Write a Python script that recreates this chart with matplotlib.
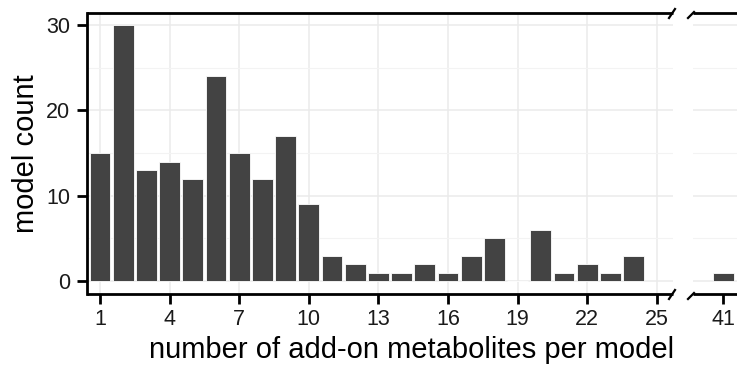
import matplotlib
matplotlib.use("Agg")
import matplotlib.pyplot as plt
from matplotlib.lines import Line2D
import numpy as np

plt.rcParams['font.family'] = ['Liberation Sans', 'DejaVu Sans']

# data
n_metabolites = [1, 2, 3, 4, 5, 6, 7, 8, 9, 10, 11, 12, 13, 14, 15, 16, 17, 18, 19, 20, 21, 22, 23, 24, 41]
model_count = [15, 30, 13, 14, 12, 24, 15, 12, 17, 9, 3, 2, 1, 1, 2, 1, 3, 5, 0, 6, 1, 2, 1, 3, 1]
left_ticks = [1, 4, 7, 10, 13, 16, 19, 22, 25]
right_ticks = [41]
y_ticks = [0, 10, 20, 30]

W, H = 737, 369
fig = plt.figure(figsize=(W / 100, H / 100), dpi=100)

top_px, bot_px = 13, 294
l1, r1 = 87, 673
l2, r2 = 693, 737
y0 = 1 - bot_px / H
hh = (bot_px - top_px) / H
ax1 = fig.add_axes([l1 / W, y0, (r1 - l1) / W, hh])
ax2 = fig.add_axes([l2 / W, y0, (r2 - l2) / W, hh])

bar_color = '#434343'
grid_color = '#ebebeb'
spine_lw = 2.0

x = np.array(n_metabolites)
y = np.array(model_count)
for ax in (ax1, ax2):
    ax.bar(x, y, width=0.9, color=bar_color, edgecolor='white', linewidth=0.6, zorder=3)
    ax.set_ylim(-1.5, 31.4)
    ax.set_yticks(y_ticks)
    ax.set_yticks([5, 15, 25], minor=True)
    ax.grid(which='major', axis='y', color=grid_color, lw=1.1, zorder=0)
    ax.grid(which='minor', axis='y', color='#f3f3f3', lw=0.8, zorder=0)
    ax.tick_params(axis='both', which='major', direction='out', length=7, width=2,
                   color='black', labelsize=15.5, labelcolor='#1a1a1a', pad=5)
    ax.tick_params(axis='x', which='major', pad=4)
    ax.tick_params(axis='y', which='minor', length=0)
    for s in ('left', 'right'):
        ax.spines[s].set_visible(False)
    for s in ('top', 'bottom'):
        ax.spines[s].set_linewidth(spine_lw)
        ax.spines[s].set_color('black')
        ax.spines[s].set_capstyle('butt')

ax1.set_xlim(0.44, 25.7)
ax1.set_xticks(left_ticks)
ax1.grid(which='major', axis='x', color=grid_color, lw=1.1, zorder=0)
ax1.spines['left'].set_visible(True)
ax1.spines['left'].set_linewidth(spine_lw)

ax2.set_xlim(39.7, 41.6)
ax2.set_xticks(right_ticks)
ax2.tick_params(axis='y', which='both', left=False, labelleft=False)

# break marks
def px(xp, yp):
    return (xp / W, 1 - yp / H)

for yp in (top_px, bot_px):
    fig.add_artist(Line2D([px(669, 0)[0], px(675, 0)[0]],
                          [px(0, yp + 5)[1], px(0, yp - 4)[1]],
                          color='black', lw=1.6, transform=fig.transFigure))
    fig.add_artist(Line2D([px(688, 0)[0], px(694, 0)[0]],
                          [px(0, yp + 5)[1], px(0, yp - 1)[1]],
                          color='black', lw=1.6, transform=fig.transFigure))

fig.text(26 / W, 1 - (top_px + bot_px) / 2 / H, 'model count', rotation=90,
         ha='center', va='center', fontsize=21, color='black')
fig.text((l1 + r2) / 2 / W, 1 - 350 / H, 'number of add-on metabolites per model',
         ha='center', va='center', fontsize=21, color='black')

fig.savefig('out.png', dpi=100)
